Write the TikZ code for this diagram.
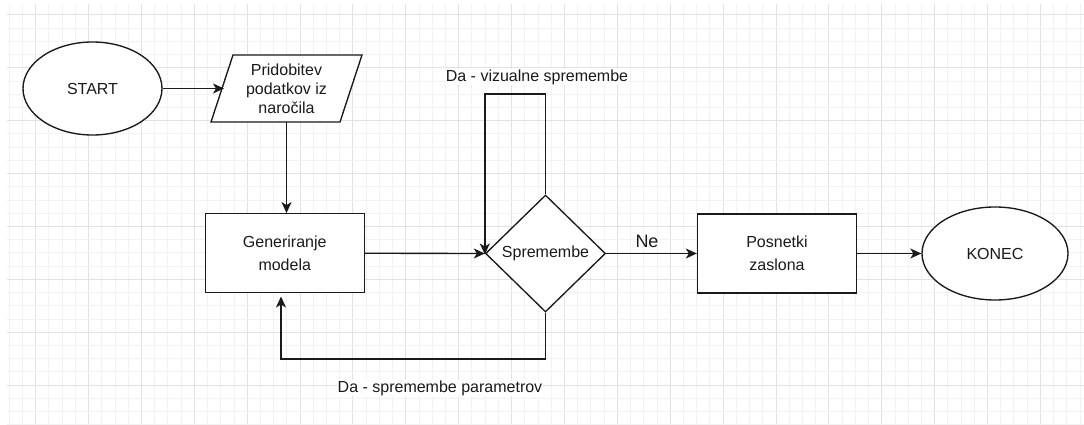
\documentclass[tikz,border=0pt]{standalone}
\usepackage{fontspec}
\setmainfont{Liberation Sans}
\usetikzlibrary{shapes.geometric,arrows.meta}
\definecolor{gridminor}{HTML}{F2F2F2}
\definecolor{gridmajor}{HTML}{E2E2E2}
\definecolor{ink}{HTML}{1A1A1A}
\begin{document}
\begin{tikzpicture}[x=1pt,y=-1pt,
  every node/.style={font=\fontsize{16}{19}\selectfont, text=ink},
  shp/.style={draw=ink, line width=1.35pt, fill=white, inner sep=0pt},
  ell/.style={shp, ellipse, minimum height=93pt},
  box/.style={shp, rectangle, minimum width=159pt, minimum height=79pt, align=center, font=\fontsize{16}{23}\selectfont},
  dia/.style={shp, diamond, minimum width=120pt, minimum height=117pt},
  arr/.style={draw=ink, line width=1.35pt, -{Stealth[length=11pt,width=10pt,inset=3pt]}},
  lbl/.style={fill=white, inner sep=1pt}]
\useasboundingbox (0,0) rectangle (1084,425);
% grid
\begin{scope}
\clip (7,5) rectangle (1084,425);
\foreach \i in {-2,...,79} {
  \pgfmathtruncatemacro{\m}{mod(\i+100,4)}
  \ifnum\m=0
    \draw[gridmajor, line width=1pt] ({35.7+13.22*\i},0) -- ({35.7+13.22*\i},425);
  \else
    \draw[gridminor, line width=1pt] ({35.7+13.22*\i},0) -- ({35.7+13.22*\i},425);
  \fi
}
\foreach \j in {-1,...,31} {
  \pgfmathtruncatemacro{\m}{mod(\j+100,4)}
  \ifnum\m=0
    \draw[gridmajor, line width=1pt] (0,{15+13.22*\j}) -- (1084,{15+13.22*\j});
  \else
    \draw[gridminor, line width=1pt] (0,{15+13.22*\j}) -- (1084,{15+13.22*\j});
  \fi
}
\end{scope}

% shapes
\node[ell, minimum width=139pt] (start) at (92.5,88.5) {START};
\filldraw[fill=white, draw=ink, line width=1.35pt, line join=miter] (233,55) -- (362,55) -- (340,122) -- (211,122) -- cycle;
\node[inner sep=0pt, minimum width=151pt, minimum height=67pt, align=center] (p) at (286.5,88.5) {Pridobitev\\podatkov iz\\naročila};
\coordinate (pl) at (224,88.5);
\node[box] (gen) at (284.75,253.25) {Generiranje\\modela};
\node[dia] (d) at (545.5,253.5) {};
\node (dt) at (d.center) {Spremembe};
\node[box] (pos) at (777,253.5) {Posnetki\\zaslona};
\node[ell, minimum width=146pt] (konec) at (995,253.5) {KONEC};

% connectors
\draw[arr] (start.east) -- (pl);
\draw[arr] (p.south) -- (p.south |- gen.north);
\draw[arr] (gen.east) -- (d.west);
\coordinate (lt) at (545.5,94);
\draw[arr] (d.north) -- (lt) -| ([yshift=-1pt]d.west);
\coordinate (lb) at (545.5,359);
\coordinate (gb) at (281,296.5);
\draw[arr] (d.south) -- (lb) -| (gb);
\draw[arr] (d.east) -- (pos.west);
\draw[arr] (pos.east) -- (konec.west);

% labels
\node[lbl] (l1) at (537,77) {Da - vizualne spremembe};
\node[lbl] (l2) at (440,388) {Da - spremembe parametrov};
\node[font=\fontsize{18}{21}\selectfont] (ne) at (647,241) {Ne};
\end{tikzpicture}
\end{document}
